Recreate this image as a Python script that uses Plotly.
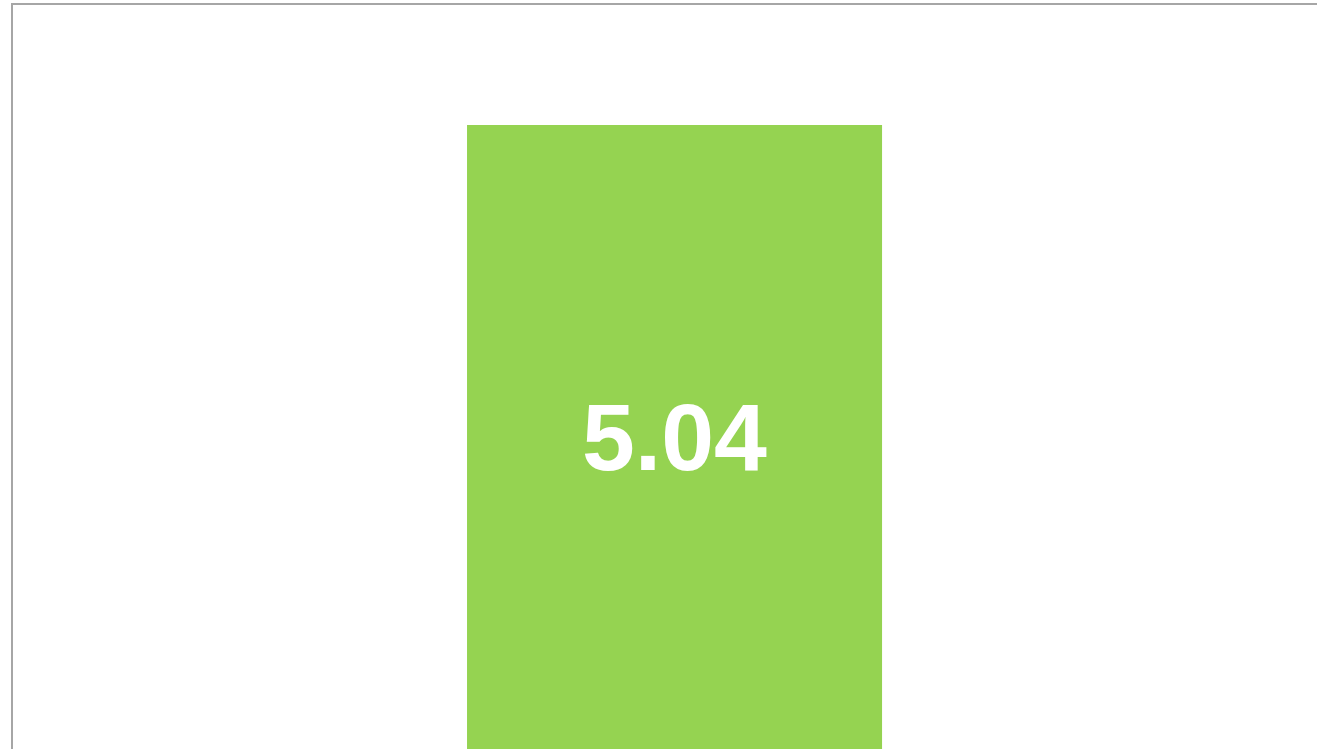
import plotly.graph_objects as go

categories = ["Value"]
values = [5.04]
labels = ["5.04"]

fig = go.Figure(
    go.Bar(
        x=categories,
        y=values,
        text=labels,
        textposition="inside",
        insidetextanchor="middle",
        textfont=dict(family="Liberation Sans, Arial, sans-serif", size=95, color="white", weight="bold"),
        marker=dict(color="#95d351", line=dict(width=0)),
        width=1,
        hoverinfo="skip",
    )
)

fig.update_layout(
    width=1317,
    height=749,
    margin=dict(l=13, r=0, t=5, b=0),
    paper_bgcolor="white",
    plot_bgcolor="white",
    showlegend=False,
    xaxis=dict(
        range=[-1.594, 1.548],
        side="top",
        showline=True,
        linecolor="#a6a6a6",
        linewidth=2,
        showticklabels=False,
        ticks="",
        showgrid=False,
        zeroline=False,
        fixedrange=True,
    ),
    yaxis=dict(
        range=[0, 6.01],
        showline=True,
        linecolor="#a6a6a6",
        linewidth=2,
        showticklabels=False,
        ticks="",
        showgrid=False,
        zeroline=False,
        fixedrange=True,
    ),
)

fig.write_html(
    "out.html",
    config={"displayModeBar": False},
    post_script="document.body.style.margin='0';document.body.style.overflow='hidden';",
)
